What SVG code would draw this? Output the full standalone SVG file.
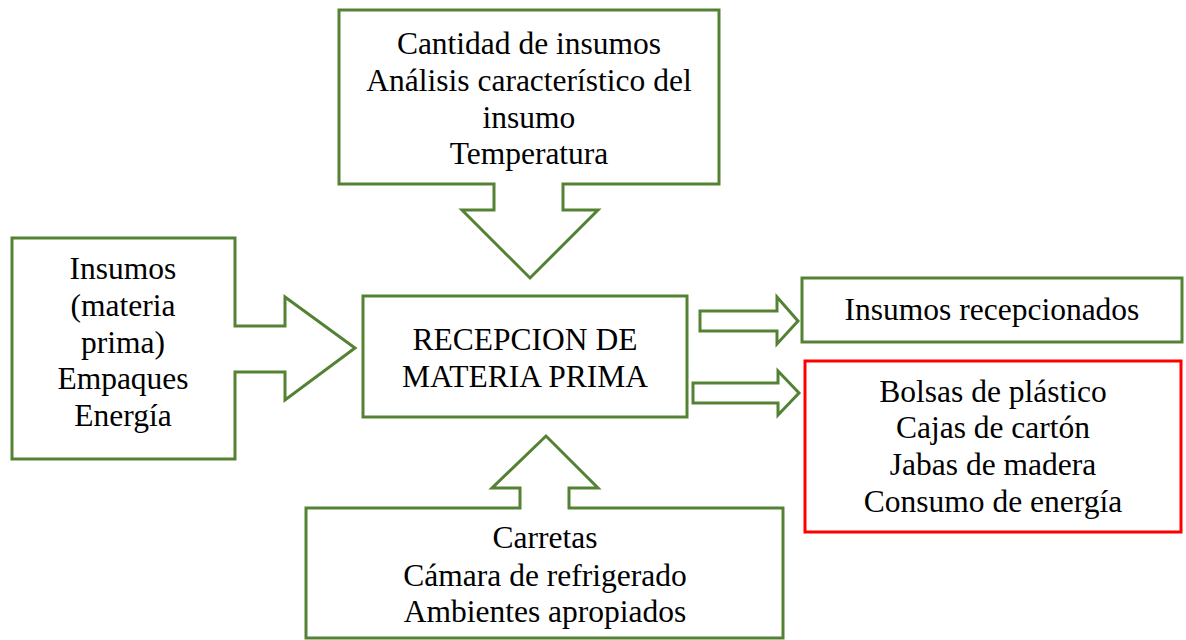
<svg xmlns="http://www.w3.org/2000/svg" width="1186" height="640" viewBox="0 0 1186 640">
<style>
.g{fill:#fff;stroke:#548235;stroke-width:3;stroke-linejoin:miter}
.r{fill:#fff;stroke:#ff0000;stroke-width:3}
text{font-family:"Liberation Serif","Times New Roman",serif;font-size:31.5px;fill:#000;text-anchor:middle}
</style>
<rect width="1186" height="640" fill="#fff"/>
<g id="top">
<path class="g" d="M339,10 H719 V184 H563 V210 H598 L530,278 L462,210 H494 V184 H339 Z"/>
<text x="529" y="54">Cantidad de insumos</text>
<text x="529" y="91">Análisis característico del</text>
<text x="529" y="128">insumo</text>
<text x="529" y="164">Temperatura</text>
</g>
<g id="left">
<path class="g" d="M12,238 H235 V326 H285 V297 L355,348 L285,400 V372 H235 V459 H12 Z"/>
<text x="123" y="279">Insumos</text>
<text x="123" y="316">(materia</text>
<text x="123" y="353">prima)</text>
<text x="123" y="389">Empaques</text>
<text x="123" y="426">Energía</text>
</g>
<g id="bottom">
<path class="g" d="M306,508 H520 V488 H492 L546,436 L598,488 H569 V508 H783 V638 H306 Z"/>
<text x="545" y="548">Carretas</text>
<text x="545" y="586">Cámara de refrigerado</text>
<text x="545" y="622">Ambientes apropiados</text>
</g>
<g id="center">
<rect class="g" x="363" y="296" width="324" height="121"/>
<text x="525" y="350">RECEPCION DE</text>
<text x="525" y="387">MATERIA PRIMA</text>
</g>
<g id="connectors">
<path class="g" d="M700,311 H777 V297 L798,321 L777,344 V331 H700 Z"/>
<path class="g" d="M693,383 H778 V371 L799,393 L778,415 V403 H693 Z"/>
</g>
<g id="out1">
<rect class="g" x="802" y="278" width="380" height="64"/>
<text x="992" y="320">Insumos recepcionados</text>
</g>
<g id="out2">
<rect class="r" x="805" y="361" width="376" height="171"/>
<text x="993" y="402">Bolsas de plástico</text>
<text x="993" y="438">Cajas de cartón</text>
<text x="993" y="475">Jabas de madera</text>
<text x="993" y="512">Consumo de energía</text>
</g>
</svg>
